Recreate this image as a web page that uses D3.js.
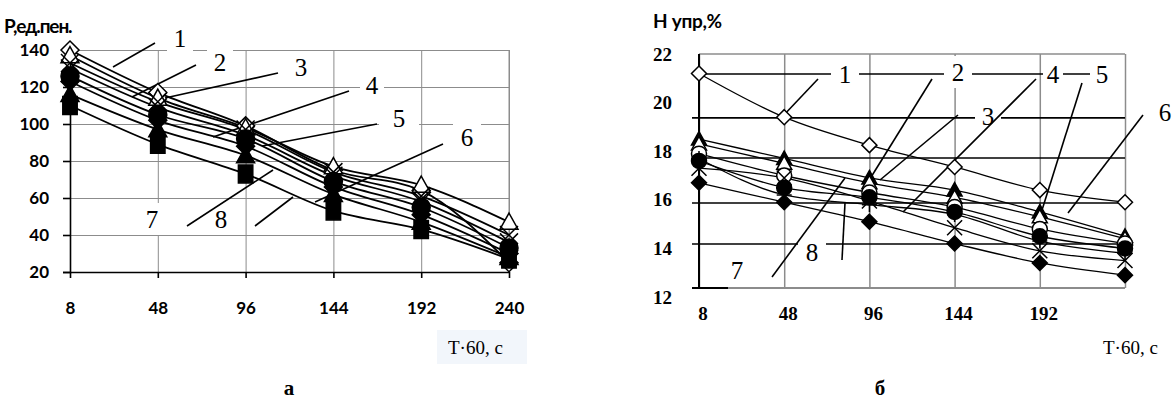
<!DOCTYPE html>
<html lang="uk">
<head>
  <meta charset="UTF-8">
  <title>P, H упр</title>
  <script type="text/javascript" src="https://d3js.org/d3.v7.min.js"></script>
  <style>
    body { margin: 0; background: #fff; }
  </style>
</head>
<body>
  <svg width="1175" height="401"></svg>
<script type="text/javascript">
// time points (T·60, c)
var categories = ["8", "48", "96", "144", "192", "240"];

// left chart, P, ед.пен.
var leftTicksY = [20, 40, 60, 80, 100, 120, 140];
var left1 = [140, 117, 99, 75, 64, 25];
var left2 = [137, 114, 98, 77, 67, 47];
var left3 = [133, 112, 97, 74, 61, 40];
var left4 = [130, 109, 94, 72, 58, 36];
var left5 = [126, 105, 92, 69, 55, 33];
var left6 = [123, 102, 88, 66, 51, 30];
var left7 = [116, 97, 83, 62, 47, 28];
var left8 = [110, 89, 73, 53, 43, 27];

// right chart, H упр, %
var rightTicksY = [12, 14, 16, 18, 20, 22];
var rightTicksX = ["8", "48", "96", "144", "192"];
var right1 = [21.2, 19.4, 18.25, 17.35, 16.4, 15.9];
var right2 = [18.5, 17.7, 16.9, 16.4, 15.5, 14.5];
var right3 = [18.3, 17.5, 16.7, 16.1, 15.3, 14.4];
var right4 = [17.9, 17.0, 16.3, 15.7, 14.8, 14.2];
var right5 = [17.6, 16.5, 16.1, 15.5, 14.5, 14.0];
var right6 = [17.3, 16.9, 15.95, 14.85, 13.9, 13.5];
var right7 = [17.7, 16.2, 15.8, 15.4, 14.3, 13.8];
var right8 = [16.7, 15.9, 15.1, 14.2, 13.4, 12.9];
// the black reference lines drawn across the right chart
var rightRefLines = [21.18, 19.37, 17.72, 15.87, 14.18];

var leftSeries = [
  { v: left1, m: "diamond", fill: false },
  { v: left2, m: "triangle", fill: false },
  { v: left3, m: "x", fill: false },
  { v: left4, m: "x", fill: false },
  { v: left5, m: "circle", fill: true },
  { v: left6, m: "diamond", fill: true },
  { v: left7, m: "triangle", fill: true },
  { v: left8, m: "square", fill: true }
];
var rightSeries = [
  { v: right1, m: "diamond", fill: false },
  { v: right2, m: "triangle", fill: true },
  { v: right3, m: "triangle", fill: false },
  { v: right4, m: "circle", fill: false },
  { v: right5, m: "circle", fill: true },
  { v: right6, m: "x", fill: false },
  { v: right7, m: "plus", fill: false },
  { v: right8, m: "diamond", fill: true }
];

var svg = d3.select("svg");
var grid = "#8c8c8c";
var sans = "Lato, 'Open Sans', sans-serif";
var serif = "'Liberation Serif', 'Times New Roman', serif";

function markerPath(type, r) {
  if (type == "diamond") return "M0," + (-r) + "L" + r + ",0L0," + r + "L" + (-r) + ",0Z";
  if (type == "square") return "M" + (-r * 0.8) + "," + (-r) + "h" + (r * 1.6) + "v" + (r * 2) + "h" + (-r * 1.6) + "Z";
  if (type == "triangle") return "M0," + (-r) + "L" + r + "," + (r * 0.8) + "L" + (-r) + "," + (r * 0.8) + "Z";
  if (type == "x") return "M" + (-r) + "," + (-r) + "L" + r + "," + r + "M" + r + "," + (-r) + "L" + (-r) + "," + r;
  if (type == "plus") return "M0," + (-r) + "V" + r + "M" + (-r) + ",0H" + r;
  return d3.symbol(d3.symbolCircle, Math.PI * r * r)();
}

function drawSeries(g, series, x, y, r, lw) {
  var line = d3.line()
    .x(function(d, i) { return x(categories[i]); })
    .y(function(d) { return y(d); })
    .curve(d3.curveMonotoneX);
  series.forEach(function(s) {
    g.append("path").attr("d", line(s.v))
      .attr("fill", "none").attr("stroke", "#000").attr("stroke-width", lw);
  });
  series.forEach(function(s) {
    g.selectAll(null).data(s.v).enter().append("path")
      .attr("transform", function(d, i) { return "translate(" + x(categories[i]) + "," + y(d) + ")"; })
      .attr("d", markerPath(s.m, r))
      .attr("fill", s.fill ? "#000" : (s.m == "x" || s.m == "plus" ? "none" : "#fff"))
      .attr("stroke", "#000")
      .attr("stroke-width", 1.5);
  });
}

function numLabels(g, list) {
  // white box behind the number, then leader line, then text
  list.forEach(function(d) {
    g.append("rect").attr("x", d.x - d.w / 2).attr("y", d.y - 16).attr("width", d.w).attr("height", 32).attr("fill", "#fff");
  });
  list.forEach(function(d) {
    if (d.l) g.append("line").attr("x1", d.l[0]).attr("y1", d.l[1]).attr("x2", d.l[2]).attr("y2", d.l[3])
      .attr("stroke", "#000").attr("stroke-width", 1.6);
    g.append("text").attr("x", d.x).attr("y", d.y)
      .attr("font-family", serif).attr("font-size", 25)
      .attr("text-anchor", "middle").attr("dominant-baseline", "central").text(d.t);
  });
}

function styleAxis(a, family, size) {
  a.attr("font-family", family).attr("font-size", size).attr("font-weight", 700);
  a.selectAll("path, line").attr("stroke", "#000").attr("stroke-width", 1.6);
  a.selectAll("text").attr("fill", "#000");
}

// ---------------- left chart
var xL = d3.scalePoint().domain(categories).range([70, 509]);
var yL = d3.scaleLinear().domain([20, 140]).range([272, 50]);
var gL = svg.append("g");

gL.append("g").attr("transform", "translate(0,272)")
  .call(d3.axisBottom(xL).tickSize(-222).tickFormat(""))
  .call(function(a) { a.select(".domain").remove(); a.selectAll(".tick line").attr("stroke", grid); });
gL.append("g").attr("transform", "translate(70,0)")
  .call(d3.axisLeft(yL).tickValues(leftTicksY).tickSize(-439).tickFormat(""))
  .call(function(a) { a.select(".domain").remove(); a.selectAll(".tick line").attr("stroke", grid); });
gL.append("line").attr("x1", 509).attr("x2", 509).attr("y1", 50).attr("y2", 272).attr("stroke", grid);

var leftNums = [
  { t: "1", x: 180, y: 38, w: 26, l: [113, 67, 155, 43] },
  { t: "2", x: 220, y: 62, w: 26, l: [132, 97, 196, 65] },
  { t: "3", x: 301, y: 67, w: 40, l: [165, 98, 278, 73] },
  { t: "4", x: 372, y: 85, w: 24, l: [213, 137, 349, 91] },
  { t: "5", x: 399, y: 118, w: 40, l: [262, 146, 377, 124] },
  { t: "6", x: 467, y: 137, w: 28, l: [315, 202, 443, 144] },
  { t: "7", x: 152, y: 219, w: 30, l: [187, 226, 273, 170] },
  { t: "8", x: 221, y: 219, w: 28, l: [255, 226, 293, 197] }
];
numLabels(gL, leftNums);

// axes in black
gL.append("g").attr("transform", "translate(70,0)")
  .call(d3.axisLeft(yL).tickValues(leftTicksY).tickSize(7).tickPadding(14))
  .call(function(a) { styleAxis(a, sans, 17); });
gL.append("g").attr("transform", "translate(0,272)")
  .call(d3.axisBottom(xL).tickSize(6).tickPadding(24).tickSizeOuter(0))
  .call(function(a) { styleAxis(a, sans, 17); });

drawSeries(gL, leftSeries, xL, yL, 9, 1.8);

gL.append("text").attr("x", 4).attr("y", 33)
  .attr("font-family", sans).attr("font-weight", 700).attr("font-size", 19)
  .attr("letter-spacing", -1.1).text("P,ед.пен.");

// ---------------- right chart
var xR = d3.scalePoint().domain(categories).range([699, 1125]);
var yR = d3.scaleLinear().domain([12, 22]).range([297, 54]);
var bottomR = 288;
var gR = svg.append("g");

gR.append("g").attr("transform", "translate(0," + bottomR + ")")
  .call(d3.axisBottom(xR).tickSize(-(bottomR - yR(22))).tickFormat(""))
  .call(function(a) { a.select(".domain").remove(); a.selectAll(".tick line").attr("stroke", grid).attr("stroke-width", 1.5); });
gR.append("line").attr("x1", 699).attr("x2", 1125).attr("y1", yR(22)).attr("y2", yR(22)).attr("stroke", grid).attr("stroke-width", 1.5);
gR.append("line").attr("x1", 699).attr("x2", 1125).attr("y1", bottomR).attr("y2", bottomR).attr("stroke", grid).attr("stroke-width", 2);

gR.selectAll(".ref").data(rightRefLines).enter().append("line")
  .attr("x1", 692).attr("x2", function(d, i) { return i == 0 ? 1090 : 1125; })
  .attr("y1", function(d) { return yR(d); }).attr("y2", function(d) { return yR(d); })
  .attr("stroke", "#000").attr("stroke-width", 1.6);

var rightNums = [
  { t: "1", x: 845, y: 74, w: 28, l: [818, 79, 782, 117] },
  { t: "2", x: 958, y: 72, w: 28, l: [932, 79, 868, 182] },
  { t: "3", x: 988, y: 116, w: 26, l: [958, 115, 880, 180] },
  { t: "4", x: 1053, y: 74, w: 20, l: [1036, 79, 903, 212] },
  { t: "5", x: 1102, y: 74, w: 20, l: [1082, 83, 1042, 210] },
  { t: "6", x: 1165, y: 112, w: 20, l: [1143, 115, 1068, 213] },
  { t: "7", x: 737, y: 270, w: 28, l: [772, 277, 845, 178] },
  { t: "8", x: 812, y: 252, w: 28, l: [842, 260, 845, 203] }
];
numLabels(gR, rightNums);

gR.append("line").attr("x1", 699).attr("x2", 699).attr("y1", yR(22)).attr("y2", bottomR).attr("stroke", "#000").attr("stroke-width", 2);
gR.append("line").attr("x1", 692).attr("x2", 728).attr("y1", bottomR).attr("y2", bottomR).attr("stroke", "#000").attr("stroke-width", 2);

drawSeries(gR, rightSeries, xR, yR, 7.5, 1.3);

gR.selectAll(".ylab").data(rightTicksY).enter().append("text")
  .attr("x", 672).attr("y", function(d) { return yR(d); })
  .attr("font-family", serif).attr("font-weight", 700).attr("font-size", 19)
  .attr("text-anchor", "end").attr("dominant-baseline", "central").text(function(d) { return d; });
gR.selectAll(".xlab").data(rightTicksX).enter().append("text")
  .attr("x", function(d) { return xR(d) + 4; }).attr("y", 313)
  .attr("font-family", serif).attr("font-weight", 700).attr("font-size", 19)
  .attr("text-anchor", "middle").attr("dominant-baseline", "central").text(function(d) { return d; });

gR.append("text").attr("x", 653).attr("y", 28)
  .attr("font-family", sans).attr("font-weight", 700).attr("font-size", 19)
  .attr("letter-spacing", -0.3).text("H упр,%");

// ---------------- captions
svg.append("rect").attr("x", 437).attr("y", 330).attr("width", 90).attr("height", 34).attr("fill", "#f2f6fb");
svg.selectAll(".cap").data([{ x: 448, t: "T·60, c" }, { x: 1103, t: "T·60, c" }]).enter().append("text")
  .attr("x", function(d) { return d.x; }).attr("y", 347).attr("dominant-baseline", "central")
  .attr("font-family", serif).attr("font-size", 19).text(function(d) { return d.t; });
svg.selectAll(".sub").data([{ x: 289, t: "а" }, { x: 880, t: "б" }]).enter().append("text")
  .attr("x", function(d) { return d.x; }).attr("y", 388).attr("text-anchor", "middle").attr("dominant-baseline", "central")
  .attr("font-family", serif).attr("font-weight", 700).attr("font-size", 21).text(function(d) { return d.t; });
</script>
</body>
</html>
